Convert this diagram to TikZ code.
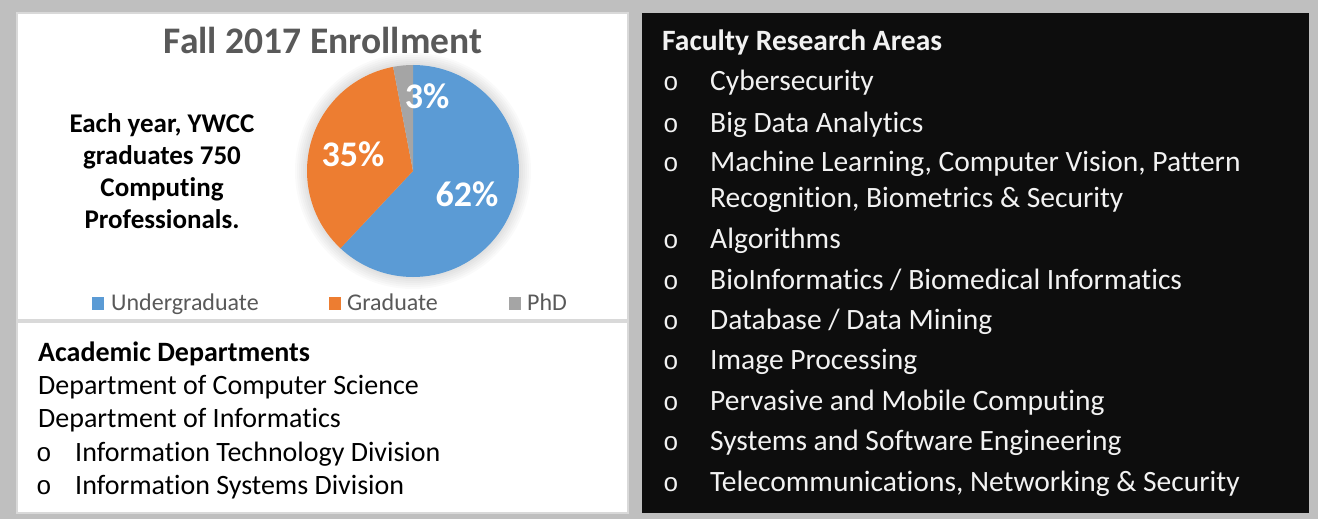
\documentclass[tikz,border=0pt]{standalone}
\usepackage{fontspec}
\setmainfont{Carlito}[Ligatures=NoCommon]
\newfontfamily\bulfont{Liberation Mono}
\definecolor{bgGray}{HTML}{BFBFBF}
\definecolor{panelEdge}{HTML}{D9D9D9}
\definecolor{darkPanel}{HTML}{0D0D0D}
\definecolor{titleGray}{HTML}{595959}
\definecolor{pieBlue}{HTML}{5B9BD5}
\definecolor{pieOrange}{HTML}{ED7D31}
\definecolor{pieGray}{HTML}{A5A5A5}
\definecolor{lightText}{HTML}{F2F2F2}
\begin{document}
\begin{tikzpicture}[x=1pt,y=-1pt,
  txt/.style={inner sep=0pt, anchor=base west},
  rtxt/.style={txt, text=lightText, font=\fontsize{29.5}{34}\selectfont},
  rbul/.style={inner sep=0pt, anchor=base, text=lightText, font=\bulfont\fontsize{26}{30}\selectfont},
  ltxt/.style={txt, text=black, font=\fontsize{28}{32}\selectfont},
  lbul/.style={inner sep=0pt, anchor=base, text=black, font=\bulfont\fontsize{26}{30}\selectfont},
  stmt/.style={inner sep=0pt, anchor=base, font=\bfseries\fontsize{27}{32}\selectfont},
  pct/.style={inner sep=0pt, text=white, font=\bfseries\fontsize{36}{40}\selectfont},
  leg/.style={txt, text=titleGray, font=\fontsize{24}{28}\selectfont},
  legbox/.style={minimum width=12pt, minimum height=13pt, inner sep=0pt, anchor=north west}
]
\useasboundingbox (0,0) rectangle (1318,519);
\fill[bgGray] (0,0) rectangle (1318,519);
% panels
\draw[panelEdge, line width=2pt, fill=white] (17,13) rectangle (628,320);
\draw[panelEdge, line width=2pt, fill=white] (17,322) rectangle (628,513);
\fill[darkPanel] (642,13) rectangle (1309,513);

% title
\node[inner sep=0pt, anchor=base, text=titleGray, font=\bfseries\fontsize{37.5}{42}\selectfont] (title) at (323,54) {Fall 2017 Enrollment};

% left statement
\node[stmt] (s1) at (162,132) {Each year, YWCC};
\node[stmt] (s2) at (162,164) {graduates 750};
\node[stmt] (s3) at (162,196) {Computing};
\node[stmt] (s4) at (162,228) {Professionals.};

% pie
\begin{scope}[shift={(413,171)}, yscale=-1]
  \foreach \r in {118,116,114,112,110,108}{
    \fill[black, opacity=0.018] (0,0) circle[radius=\r];
  }
  \fill[pieBlue] (0,0) -- (90:106) arc[start angle=90, end angle=-133.2, radius=106] -- cycle;
  \fill[pieOrange] (0,0) -- (-133.2:106) arc[start angle=-133.2, end angle=-259.2, radius=106] -- cycle;
  \fill[pieGray] (0,0) -- (100.8:106) arc[start angle=100.8, end angle=90, radius=106] -- cycle;
\end{scope}
\node[pct] (p3) at (427,96) {3\%};
\node[pct] (p35) at (353,154) {35\%};
\node[pct] (p62) at (467,194) {62\%};

% legend
\node[legbox, fill=pieBlue] (lb1) at (92,297) {};
\node[leg] (lt1) at (111,310) {Undergraduate};
\node[legbox, fill=pieOrange] (lb2) at (329,297) {};
\node[leg] (lt2) at (347,310) {Graduate};
\node[legbox, fill=pieGray] (lb3) at (509,297) {};
\node[leg] (lt3) at (527,310) {PhD};

% academic departments
\node[ltxt, font=\bfseries\fontsize{28}{32}\selectfont] (ad) at (38,361) {Academic Departments};
\node[ltxt] (ad1) at (38,394) {Department of Computer Science};
\node[ltxt] (ad2) at (38,427) {Department of Informatics};
\node[lbul] (adb3) at (44,461) {o};
\node[ltxt] (ad3) at (75,461) {Information Technology Division};
\node[lbul] (adb4) at (44,494) {o};
\node[ltxt] (ad4) at (75,494) {Information Systems Division};

% faculty research areas
\node[rtxt, font=\bfseries\fontsize{29.5}{34}\selectfont] (fr) at (662,51) {Faculty Research Areas};
\node[rbul] (b1) at (671,91) {o};
\node[rtxt] (r1) at (710,91) {Cybersecurity};
\node[rbul] (b2) at (671,132) {o};
\node[rtxt] (r2) at (710,132) {Big Data Analytics};
\node[rbul] (b3) at (671,171) {o};
\node[rtxt] (r3) at (710,171) {Machine Learning, Computer Vision, Pattern};
\node[rtxt] (r3b) at (710,207) {Recognition, Biometrics \& Security};
\node[rbul] (b4) at (671,248) {o};
\node[rtxt] (r4) at (710,248) {Algorithms};
\node[rbul] (b5) at (671,289) {o};
\node[rtxt] (r5) at (710,289) {BioInformatics / Biomedical Informatics};
\node[rbul] (b6) at (671,329) {o};
\node[rtxt] (r6) at (710,329) {Database / Data Mining};
\node[rbul] (b7) at (671,369) {o};
\node[rtxt] (r7) at (710,369) {Image Processing};
\node[rbul] (b8) at (671,410) {o};
\node[rtxt] (r8) at (710,410) {Pervasive and Mobile Computing};
\node[rbul] (b9) at (671,450) {o};
\node[rtxt] (r9) at (710,450) {Systems and Software Engineering};
\node[rbul] (b10) at (671,491) {o};
\node[rtxt] (r10) at (710,491) {Telecommunications, Networking \& Security};
\end{tikzpicture}
\end{document}
